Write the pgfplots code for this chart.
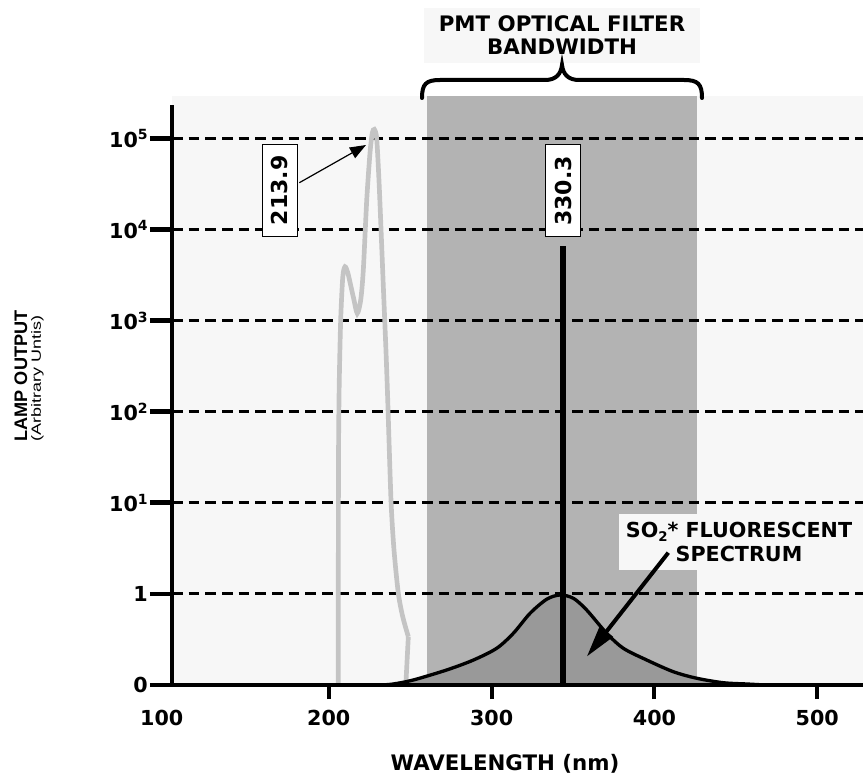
\documentclass[border=0pt]{standalone}
\usepackage{fontspec}
\setmainfont{DejaVu Sans}
\newfontfamily\arialfont{Liberation Sans}
\usepackage{pgfplots}
\pgfplotsset{compat=1.18}
\usetikzlibrary{arrows.meta}
\definecolor{bglight}{HTML}{F7F7F7}
\definecolor{bandgray}{HTML}{B3B3B3}
\definecolor{so2fill}{HTML}{999999}
\definecolor{lampgray}{HTML}{C4C4C4}
\newcommand{\sps}[1]{\raisebox{5.5pt}{\fontsize{10.5}{10.5}\selectfont #1}}
\begin{document}
\begin{tikzpicture}
\begin{axis}[
  name=ax, at={(0,0)}, anchor=south west,
  scale only axis, width=518.25pt, height=441.75pt,
  xmin=103.7, xmax=528.1, ymin=0, ymax=6.466,
  clip=false,
  axis x line*=bottom, axis y line*=left,
  axis line style={draw=none},
  axis background/.style={fill=bglight},
  tick align=outside,
  xtick={200,300,400,500},
  xticklabels={200,300,400,500},
  ytick={0,1,2,3,4,5,6},
  yticklabels={0,1,10\sps{1},10\sps{2},10\sps{3},10\sps{4},10\sps{5}},
  major tick length=16.5pt,
  x tick style={line width=3pt, black, /pgfplots/major tick length=10.5pt},
  y tick style={line width=3.5pt, black},
  ticklabel style={font=\bfseries\fontsize{15.5}{18}\selectfont},
  yticklabel style={inner sep=1.5pt},
  xticklabel style={inner sep=2pt},
]
% PMT filter band
\addplot[fill=bandgray, draw=none] coordinates {(260.1,0) (260.1,6.466) (426.0,6.466) (426.0,0)} -- cycle;
% dashed grid
\draw[black, line width=2.2pt, dash pattern=on 8pt off 4.5pt] (axis cs:103.7,1) -- (axis cs:528.1,1);
\draw[black, line width=2.2pt, dash pattern=on 8pt off 4.5pt] (axis cs:103.7,2) -- (axis cs:528.1,2);
\draw[black, line width=2.2pt, dash pattern=on 8pt off 4.5pt] (axis cs:103.7,3) -- (axis cs:528.1,3);
\draw[black, line width=2.2pt, dash pattern=on 8pt off 4.5pt] (axis cs:103.7,4) -- (axis cs:528.1,4);
\draw[black, line width=2.2pt, dash pattern=on 8pt off 4.5pt] (axis cs:103.7,5) -- (axis cs:528.1,5);
\draw[black, line width=2.2pt, dash pattern=on 8pt off 4.5pt] (axis cs:103.7,6) -- (axis cs:528.1,6);
% lamp output
\addplot[lampgray, line width=3.5pt, smooth, tension=0.45] coordinates {
 (205.84,0) (205.86,1.5) (206.0,2.6) (206.4,3.3) (207.3,4.007) (208.6,4.482) (209.95,4.592)
 (211.6,4.53) (213.3,4.40) (215.3,4.24) (217.5,4.08) (219.6,4.226) (221.2,4.555) (223.3,5.324)
 (225.3,5.840) (226.7,6.059) (227.95,6.100) (229.4,6.00) (231.0,5.470) (233.5,4.372)
 (235.1,3.677) (236.2,3.128) (238.2,2.031) (240.05,1.482) (242.7,1.007) (245.4,0.750) (248.85,0.530)};
\addplot[lampgray, line width=3.5pt] coordinates {(248.85,0.530) (247.4,0.036) (247.4,0)};
% SO2 fluorescent spectrum
\addplot[fill=so2fill, draw=black, line width=2.5pt, smooth, tension=0.5] coordinates {
 (232,0) (239.6,0.011) (251.9,0.055) (272.4,0.165) (288.8,0.274) (303.1,0.403) (313.3,0.567)
 (323.6,0.787) (333.8,0.941) (342.0,0.988) (350.2,0.952) (358.4,0.823) (370.7,0.567)
 (380.9,0.403) (395.3,0.274) (411.6,0.146) (426.0,0.074) (442.3,0.025) (456.7,0.011) (468,0)} \closedcycle;
% 330.3 line
\addplot[black, line width=4.5pt] coordinates {(343.55,0) (343.55,4.819)};
% axis lines
\draw[black, line width=3pt] (axis cs:103.7,6.367) -- (axis cs:103.7,0) -- (axis cs:528.1,0);
% labels
\node[draw=black, line width=0.8pt, fill=white, rotate=90, inner sep=0pt,
      minimum width=68.8pt, minimum height=26pt,
      font=\bfseries\fontsize{16.5}{18}\selectfont] at (axis cs:344.0,5.425) {330.3};
\node[draw=black, line width=0.8pt, fill=white, rotate=90, inner sep=0pt,
      minimum width=68.8pt, minimum height=26pt,
      font=\bfseries\fontsize{16.5}{18}\selectfont] at (axis cs:170.0,5.43) {213.9};
\draw[black, line width=0.9pt, -{Triangle[length=12pt,width=9pt]}] (axis cs:181.9,5.514) -- (axis cs:222.85,5.928);
\end{axis}
\begin{scope}[shift={(ax.south west)}, x=0.75pt, y=-0.75pt, shift={(-172,-685)}]
  % x tick label 100
  \node[anchor=base, inner sep=0pt, font=\bfseries\fontsize{15.5}{18}\selectfont] at (161.7,725) {100};
  % title
  \fill[bglight] (424,8) rectangle (700,63);
  \node[anchor=base, inner sep=0pt, font=\bfseries\fontsize{16}{19}\selectfont] at (562,31.7) {PMT OPTICAL FILTER};
  \node[anchor=base, inner sep=0pt, font=\bfseries\fontsize{16}{19}\selectfont] at (562,55) {BANDWIDTH};
  % brace
  \draw[black, line width=3pt, line cap=round]
    (422,98) .. controls (422,84) and (426,80) .. (440,80) -- (545,80)
    .. controls (556,80) and (561,74) .. (562,65)
    .. controls (563,74) and (568,80) .. (579,80) -- (684,80)
    .. controls (698,80) and (702,84) .. (702,98);
  % SO2 label
  \fill[bglight] (619,514) rectangle (859,570);
  \node[anchor=base, inner sep=0pt, font=\bfseries\fontsize{15.5}{18}\selectfont] at (739,537)
     {SO\raisebox{-3pt}{\fontsize{10}{10}\selectfont 2}* FLUORESCENT};
  \node[anchor=base, inner sep=0pt, font=\bfseries\fontsize{15.5}{18}\selectfont] at (739,561.7) {SPECTRUM};
  \draw[black, line width=3pt, -{Triangle[length=24pt,width=12pt]}] (668.3,552.7) -- (586.7,656.7);
  % x label
  \node[anchor=base, inner sep=0pt, font=\bfseries\fontsize{16}{19}\selectfont] at (505,770) {WAVELENGTH (nm)};
  % y label
  \node[rotate=90, inner sep=0pt, font=\arialfont\bfseries\fontsize{13.6}{16}\selectfont] at (21,376) {LAMP OUTPUT};
  \node[rotate=90, inner sep=0pt, font=\arialfont\fontsize{10}{12}\selectfont] at (37.5,378) {\scalebox{1.35}[1]{(Arbitrary Untis)}};
  \pgfresetboundingbox
  \useasboundingbox (0,0) rectangle (863,776);
\end{scope}
\end{tikzpicture}
\end{document}
